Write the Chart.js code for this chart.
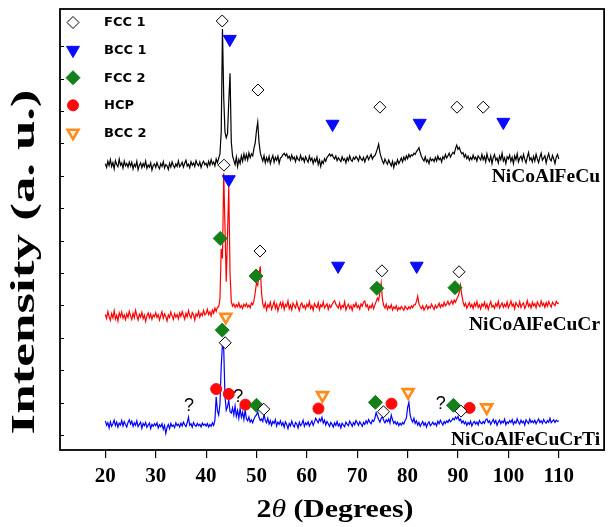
<!DOCTYPE html>
<html>
<head>
<meta charset="utf-8">
<script src="https://cdn.jsdelivr.net/npm/chart.js@4.4.1/dist/chart.umd.min.js"></script>
<style>
  html, body { margin: 0; padding: 0; background: #fff; }
  #wrap { width: 613px; height: 527px; }
</style>
</head>
<body>
<div id="wrap"><canvas id="xrd" width="613" height="527"></canvas></div>
<script>
// 2-theta grid of the scans (degrees)
const twoThetaStart = 20;
const twoThetaStep = 0.25;

// stacked intensities (a.u.), one value per 0.25 deg from 20 to 110
const intensityCu = [
  838, 826, 845, 832, 850, 829, 841, 822, 847, 835, 828, 852, 833, 840, 824, 846, 831, 838, 827, 843, // 20
  830, 842, 821, 836, 828, 845, 819, 833, 840, 825, 838, 829, 846, 823, 834, 827, 840, 818, 832, 837, // 25
  826, 841, 830, 822, 838, 829, 844, 824, 835, 831, 820, 839, 827, 843, 832, 825, 837, 829, 846, 828, // 30
  834, 842, 827, 839, 848, 830, 836, 825, 844, 833, 840, 829, 847, 836, 831, 843, 826, 838, 845, 834, // 35
  839, 828, 845, 833, 850, 836, 843, 831, 852, 840, 855, 868, 935, 1253, 1040, 935, 918, 930, 1030, 1117, // 40
  905, 862, 848, 835, 858, 829, 851, 838, 862, 845, 868, 850, 866, 849, 871, 856, 868, 862, 885, 902, // 45
  940, 966, 905, 872, 858, 846, 862, 840, 856, 844, 860, 838, 852, 863, 842, 857, 848, 861, 839, 855, // 50
  858, 866, 870, 862, 868, 855, 861, 849, 864, 852, 858, 844, 860, 851, 847, 863, 849, 856, 843, 859, // 55
  850, 842, 861, 847, 855, 838, 852, 844, 858, 835, 849, 829, 846, 838, 853, 845, 857, 862, 868, 861, // 60
  866, 858, 852, 861, 847, 856, 850, 844, 859, 848, 853, 840, 856, 847, 862, 849, 845, 857, 851, 860, // 65
  854, 846, 861, 852, 848, 857, 843, 855, 862, 850, 858, 866, 852, 860, 862, 872, 884, 898, 872, 858, // 70
  846, 838, 852, 843, 836, 849, 840, 831, 845, 826, 842, 835, 850, 838, 846, 855, 843, 858, 849, 862, // 75
  853, 866, 858, 865, 862, 870, 866, 875, 880, 887, 872, 860, 852, 846, 859, 843, 850, 838, 855, 847, // 80
  852, 844, 857, 846, 861, 850, 855, 843, 859, 852, 866, 855, 862, 870, 858, 866, 873, 868, 884, 895, // 85
  882, 888, 876, 868, 872, 858, 866, 853, 861, 848, 857, 850, 864, 852, 858, 846, 862, 855, 849, 866, // 90
  850, 860, 843, 868, 852, 845, 862, 838, 857, 866, 848, 855, 840, 861, 850, 870, 846, 856, 838, 859, // 95
  852, 864, 845, 857, 838, 862, 850, 868, 843, 855, 861, 847, 866, 851, 840, 858, 872, 849, 856, 843, // 100
  860, 846, 867, 852, 841, 858, 870, 848, 855, 862, 840, 857, 869, 851, 846, 863, 852, 838, 858, 866, // 105
  852
];
const intensityCuCr = [
  372, 360, 381, 366, 354, 375, 362, 384, 358, 370, 352, 377, 365, 380, 361, 371, 356, 374, 363, 382, // 20
  368, 357, 376, 362, 385, 369, 355, 373, 364, 379, 359, 370, 351, 368, 377, 362, 374, 357, 371, 365, // 25
  378, 363, 372, 355, 369, 381, 360, 374, 366, 352, 371, 363, 380, 368, 357, 375, 364, 372, 359, 377, // 30
  366, 381, 370, 358, 376, 365, 384, 369, 361, 378, 372, 355, 374, 367, 382, 364, 376, 369, 385, 371, // 35
  375, 388, 372, 381, 368, 386, 376, 392, 382, 395, 396, 420, 575, 545, 808, 640, 473, 620, 766, 500, // 40
  412, 398, 405, 394, 402, 396, 408, 393, 400, 391, 404, 397, 406, 395, 401, 393, 408, 402, 415, 440, // 45
  470, 462, 495, 521, 440, 405, 394, 408, 386, 402, 395, 410, 388, 399, 412, 391, 404, 383, 398, 409, // 50
  395, 410, 388, 403, 397, 414, 390, 401, 386, 407, 399, 392, 411, 396, 384, 402, 408, 393, 400, 389, // 55
  404, 396, 412, 391, 400, 385, 406, 398, 393, 409, 387, 402, 396, 411, 392, 399, 405, 388, 401, 394, // 60
  403, 410, 415, 404, 398, 392, 407, 389, 400, 395, 411, 386, 397, 404, 391, 399, 385, 402, 396, 408, // 65
  393, 400, 389, 405, 398, 410, 414, 396, 402, 387, 399, 393, 405, 390, 401, 412, 423, 415, 440, 469, // 70
  420, 400, 392, 404, 388, 398, 391, 402, 386, 396, 390, 399, 385, 394, 388, 397, 391, 385, 398, 392, // 75
  388, 396, 390, 399, 393, 402, 402, 412, 429, 405, 396, 390, 399, 386, 394, 401, 389, 397, 392, 404, // 80
  395, 388, 401, 392, 398, 407, 394, 403, 396, 410, 399, 405, 413, 402, 408, 415, 404, 417, 410, 420, // 85
  428, 440, 463, 432, 412, 398, 406, 392, 401, 409, 395, 403, 390, 407, 398, 412, 394, 402, 389, 405, // 90
  398, 410, 393, 404, 388, 402, 412, 395, 400, 391, 406, 397, 413, 392, 401, 408, 394, 404, 396, 411, // 95
  393, 402, 414, 398, 405, 390, 409, 401, 396, 412, 394, 403, 408, 391, 400, 415, 397, 405, 392, 410, // 100
  399, 406, 393, 411, 402, 396, 414, 400, 407, 394, 409, 398, 412, 403, 395, 410, 404, 399, 413, 406, // 105
  408
];
const intensityCuCrTi = [
  44, 30, 38, 22, 41, 27, 35, 46, 29, 40, 24, 37, 31, 45, 28, 42, 33, 25, 39, 47, // 20
  34, 43, 27, 38, 30, 44, 26, 33, 40, 21, 36, 29, 39, 24, 31, 37, 20, 33, 27, 35, // 25
  29, 38, 22, 32, 26, 35, 18, 30, 5, 24, 33, 20, 36, 27, 31, 23, 38, 29, 34, 25, // 30
  37, 28, 40, 32, 26, 38, 55, 30, 35, 24, 39, 31, 27, 36, 29, 33, 25, 37, 30, 34, // 35
  28, 36, 25, 33, 27, 38, 30, 46, 118, 75, 62, 95, 210, 283, 265, 120, 77, 88, 108, 72, // 40
  68, 84, 62, 90, 58, 76, 52, 82, 55, 70, 48, 78, 50, 44, 56, 40, 47, 38, 50, 58, // 45
  62, 72, 55, 45, 50, 42, 64, 46, 38, 52, 34, 45, 30, 42, 36, 48, 28, 40, 33, 44, // 50
  30, 38, 24, 41, 33, 20, 36, 28, 43, 31, 25, 39, 34, 22, 40, 29, 35, 46, 27, 38, // 55
  32, 41, 28, 36, 44, 30, 40, 52, 45, 38, 50, 43, 55, 37, 46, 31, 42, 35, 27, 39, // 60
  33, 25, 38, 30, 42, 28, 35, 22, 37, 31, 26, 40, 34, 29, 43, 36, 27, 39, 32, 45, // 65
  38, 30, 41, 34, 27, 39, 33, 44, 36, 48, 40, 35, 46, 42, 52, 69, 58, 48, 40, 52, // 70
  56, 45, 38, 47, 41, 50, 37, 62, 48, 36, 42, 33, 40, 29, 37, 31, 39, 34, 45, 52, // 75
  85, 101, 62, 48, 40, 52, 36, 44, 31, 39, 27, 35, 42, 30, 38, 25, 36, 41, 29, 34, // 80
  40, 32, 37, 28, 43, 35, 46, 38, 31, 42, 36, 44, 39, 48, 41, 45, 52, 47, 56, 50, // 85
  58, 45, 49, 38, 44, 35, 41, 30, 39, 33, 43, 28, 37, 42, 34, 40, 31, 45, 38, 35, // 90
  42, 36, 47, 50, 39, 44, 33, 41, 48, 37, 45, 30, 40, 46, 35, 43, 38, 49, 32, 41, // 95
  36, 45, 39, 48, 33, 42, 37, 50, 40, 34, 46, 38, 43, 31, 47, 41, 36, 49, 39, 44, // 100
  38, 46, 35, 43, 50, 39, 44, 36, 48, 41, 37, 45, 40, 52, 38, 43, 47, 39, 46, 42, // 105
  44
];

// phase markers: [2theta, height]
const fcc1Peaks = [[43.2, 1278], [50.3, 1065], [74.5, 1012], [89.8, 1012], [95.0, 1012],
  [43.55, 833], [50.7, 568], [74.9, 507], [90.2, 504],
  [43.8, 285], [51.45, 80], [75.2, 72], [90.6, 74]];
const bcc1Peaks = [[44.7, 1222], [65.1, 960], [82.4, 963], [99.0, 966],
  [44.5, 789], [66.2, 522], [81.8, 522]];
const fcc2Peaks = [[42.8, 607], [49.9, 491], [73.9, 453], [89.4, 455],
  [43.2, 324], [50.0, 92], [73.6, 101], [89.1, 92]];
const hcpPeaks = [[42.0, 142], [44.5, 127], [47.8, 94], [62.3, 82], [76.8, 97], [92.3, 84]];
const bcc2Peaks = [[43.9, 365], [63.1, 123], [80.1, 132], [95.7, 85]];
const unknownPeaks = [[36.6, 89], [46.4, 118], [86.6, 95]];

const sampleNames = ['NiCoAlFeCu', 'NiCoAlFeCuCr', 'NiCoAlFeCuCrTi'];
const phaseNames = ['FCC 1', 'BCC 1', 'FCC 2', 'HCP', 'BCC 2'];
const xTickValues = [20, 30, 40, 50, 60, 70, 80, 90, 100, 110];
const yTickValues = [0, 100, 200, 300, 400, 500, 600, 700, 800, 900, 1000, 1100, 1200];

const SERIF = '"Liberation Serif", "Times New Roman", serif';

const toPoints = (vals) => vals.map((v, i) => ({ x: twoThetaStart + i * twoThetaStep, y: v }));
const toMarks = (pairs) => pairs.map(p => ({ x: p[0], y: p[1] }));

const phaseStyles = [
  { pointStyle: 'rectRot', radius: 6, rotation: 0, bg: '#ffffff', border: '#000000', bw: 1 },
  { pointStyle: 'triangle', radius: 7.5, rotation: 180, bg: '#0a0aff', border: '#0a0aff', bw: 1 },
  { pointStyle: 'rectRot', radius: 7, rotation: 0, bg: '#13801a', border: '#13801a', bw: 1 },
  { pointStyle: 'circle', radius: 5.5, rotation: 0, bg: '#ff0a0a', border: '#ff0a0a', bw: 1 },
  { pointStyle: 'triangle', radius: 6.3, rotation: 180, bg: '#fff4e8', border: '#ff8c1a', bw: 2.6 }
];
const phaseData = [fcc1Peaks, bcc1Peaks, fcc2Peaks, hcpPeaks, bcc2Peaks];

const markerSets = phaseData.map((pairs, i) => ({
  label: phaseNames[i],
  data: toMarks(pairs),
  showLine: false,
  pointStyle: phaseStyles[i].pointStyle,
  pointRadius: phaseStyles[i].radius,
  pointRotation: phaseStyles[i].rotation,
  pointBackgroundColor: phaseStyles[i].bg,
  pointBorderColor: phaseStyles[i].border,
  pointBorderWidth: phaseStyles[i].bw
}));

const traceColors = ['#000000', '#ff0000', '#0000ff'];
const traceSets = [intensityCu, intensityCuCr, intensityCuCrTi].map((vals, i) => ({
  label: sampleNames[i],
  data: toPoints(vals),
  showLine: true,
  borderColor: traceColors[i],
  borderWidth: 1.2,
  pointRadius: 0,
  tension: 0
}));

// frame, inward ticks, legend, labels and axis titles
const decorations = {
  id: 'decorations',
  afterDatasetsDraw(chart) {
    const { ctx, chartArea: a, scales: { x, y } } = chart;
    ctx.save();
    ctx.strokeStyle = '#000';
    ctx.lineWidth = 1.8;
    ctx.strokeRect(a.left, a.top, a.right - a.left, a.bottom - a.top);

    ctx.lineWidth = 1;
    yTickValues.forEach(v => {
      const py = Math.round(y.getPixelForValue(v)) + 0.5;
      ctx.beginPath();
      ctx.moveTo(a.left, py);
      ctx.lineTo(a.left + 4, py);
      ctx.stroke();
    });

    // legend
    phaseNames.forEach((name, i) => {
      const s = phaseStyles[i];
      const cy = a.top + 13.5 + i * 27.6;
      ctx.fillStyle = s.bg;
      ctx.strokeStyle = s.border;
      ctx.lineWidth = s.bw;
      Chart.helpers.drawPoint(ctx, { pointStyle: s.pointStyle, radius: s.radius, rotation: s.rotation, borderWidth: s.bw }, a.left + 13, cy);
      ctx.fillStyle = '#000';
      ctx.font = 'bold 13px "DejaVu Sans", Verdana, sans-serif';
      ctx.textAlign = 'left';
      ctx.textBaseline = 'middle';
      ctx.fillText(name, a.left + 44, cy + 0.5);
    });

    // unknown peaks
    ctx.fillStyle = '#000';
    ctx.font = '18px "Liberation Sans", Arial, sans-serif';
    ctx.textAlign = 'center';
    ctx.textBaseline = 'middle';
    unknownPeaks.forEach(p => ctx.fillText('?', x.getPixelForValue(p[0]), y.getPixelForValue(p[1])));

    // sample names
    ctx.font = 'bold 19.5px ' + SERIF;
    ctx.textAlign = 'right';
    const nameHeights = [796, 339, -15];
    sampleNames.forEach((n, i) => ctx.fillText(n, a.right - 4, y.getPixelForValue(nameHeights[i])));
    ctx.restore();
  },
  afterDraw(chart) {
    const { ctx } = chart;
    ctx.save();
    ctx.fillStyle = '#000';
    ctx.textBaseline = 'middle';

    // y title
    ctx.font = 'bold 34px ' + SERIF;
    const yt = 'Intensity (a. u.)';
    const k = 345 / ctx.measureText(yt).width;
    ctx.translate(25, 262);
    ctx.rotate(-Math.PI / 2);
    ctx.scale(k, 1);
    ctx.textAlign = 'center';
    ctx.fillText(yt, 0, 0);
    ctx.setTransform(1, 0, 0, 1, 0, 0);

    // x title with italic theta
    const parts = [['2', 'bold 26px ' + SERIF], ['\u03B8', 'italic 26px ' + SERIF], [' (Degrees)', 'bold 26px ' + SERIF]];
    let total = 0;
    parts.forEach(p => { ctx.font = p[1]; total += ctx.measureText(p[0]).width; });
    const kx = 157 / total;
    ctx.translate(335 - 157 / 2, 510);
    ctx.scale(kx, 1);
    ctx.textAlign = 'left';
    let cx = 0;
    parts.forEach(p => { ctx.font = p[1]; ctx.fillText(p[0], cx, 0); cx += ctx.measureText(p[0]).width; });
    ctx.restore();
  }
};

new Chart(document.getElementById('xrd'), {
  type: 'scatter',
  data: { datasets: [...markerSets, ...traceSets] },
  options: {
    responsive: false,
    animation: false,
    layout: { padding: { left: 60, right: 2, top: 9, bottom: 0 } },
    elements: { line: { tension: 0 } },
    plugins: { legend: { display: false }, tooltip: { enabled: false } },
    scales: {
      x: {
        type: 'linear',
        min: 11,
        max: 119,
        afterBuildTicks: (s) => { s.ticks = xTickValues.map(v => ({ value: v })); },
        afterFit: (s) => { s.height = 77; },
        border: { display: false },
        grid: { drawOnChartArea: false, drawTicks: true, tickLength: 8, color: '#000', lineWidth: 1.2 },
        ticks: {
          color: '#000',
          padding: 6,
          maxRotation: 0,
          autoSkip: false,
          font: { family: SERIF, size: 21, weight: 'bold' }
        }
      },
      y: { display: false, min: -46, max: 1315 }
    }
  },
  plugins: [decorations]
});
</script>
</body>
</html>
